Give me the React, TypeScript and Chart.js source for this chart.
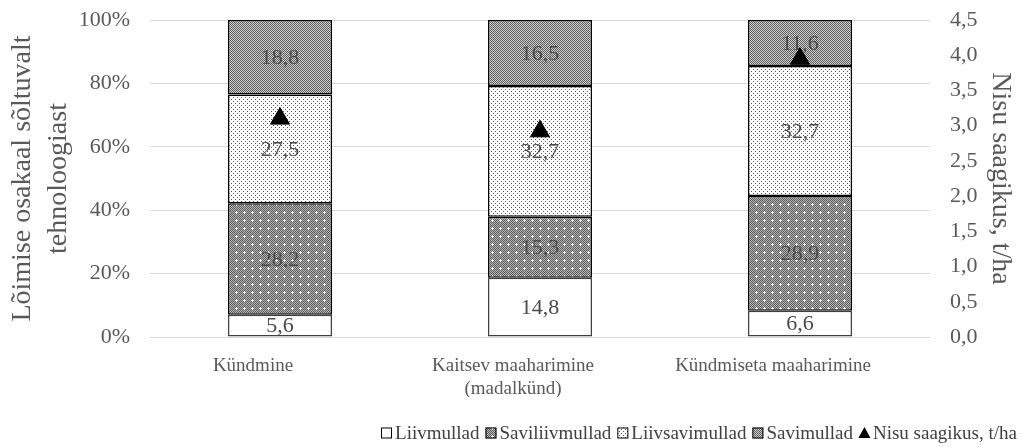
import React, { useEffect, useRef } from 'react';
import { Chart, registerables } from 'chart.js';

Chart.register(...registerables);

// ---- Data ----
const categories: (string | string[])[] = [
  'Kündmine',
  ['Kaitsev maaharimine', '(madalkünd)'],
  'Kündmiseta maaharimine',
];
const seriesNames = ['Liivmullad', 'Saviliivmullad', 'Liivsavimullad', 'Savimullad'];
const liivmullad = [5.6, 14.8, 6.6];
const saviliivmullad = [28.2, 15.3, 28.9];
const liivsavimullad = [27.5, 32.7, 32.7];
const savimullad = [18.8, 16.5, 11.6];
const lineName = 'Nisu saagikus, t/ha';
const nisuSaagikus = [3.1, 2.92, 3.95];
const leftTickStep = 20;
const rightTickStep = 0.5;

const FONT = "'Liberation Serif', 'Times New Roman', serif";
const fmt = (v: number) => v.toFixed(1).replace('.', ',');

function makePattern(size: number, draw: (g: CanvasRenderingContext2D) => void) {
  const c = document.createElement('canvas');
  c.width = size;
  c.height = size;
  const g = c.getContext('2d')!;
  draw(g);
  return g.createPattern(c, 'repeat')!;
}

function checker(g: CanvasRenderingContext2D, size: number, dark: string, light: string) {
  for (let y = 0; y < size; y++) {
    for (let x = 0; x < size; x++) {
      g.fillStyle = (x + y) % 2 === 0 ? dark : light;
      g.fillRect(x, y, 1, 1);
    }
  }
}

const barLabels = {
  id: 'barLabels',
  afterDatasetDraw(chart: any, args: any) {
    const ds = chart.data.datasets[args.index];
    if (!ds.rawValues) return;
    const ctx = chart.ctx;
    ctx.save();
    ctx.font = `22px ${FONT}`;
    ctx.fillStyle = '#4a4a4a';
    ctx.textAlign = 'center';
    ctx.textBaseline = 'middle';
    args.meta.data.forEach((el: any, j: number) => {
      const { x, y, base } = el.getProps(['x', 'y', 'base'], true);
      ctx.fillText(fmt(ds.rawValues[j]), x, (y + base) / 2 + 1);
    });
    ctx.restore();
  },
};

// Legend drawn at the bottom-right, like the original
const bottomLegend = {
  id: 'bottomLegend',
  afterDraw(chart: any) {
    const ctx = chart.ctx;
    const box = 11;
    const gap = 3;
    const itemGap = 6;
    const right = 1017;
    const cy = 433;
    ctx.save();
    ctx.font = `19px ${FONT}`;
    const items = chart.data.datasets.map((ds: any) => ({
      text: ds.label,
      fill: ds.backgroundColor,
      isLine: ds.type === 'line',
      w: ctx.measureText(ds.label).width,
    }));
    const total =
      items.reduce((s: number, it: any) => s + box + gap + it.w, 0) + itemGap * (items.length - 1);
    let x = right - total;
    items.forEach((it: any) => {
      if (it.isLine) {
        ctx.fillStyle = '#000000';
        ctx.beginPath();
        ctx.moveTo(x + box / 2, cy - 6);
        ctx.lineTo(x + box + 0.5, cy + 5);
        ctx.lineTo(x - 0.5, cy + 5);
        ctx.closePath();
        ctx.fill();
      } else {
        ctx.fillStyle = it.fill;
        ctx.fillRect(x, cy - box / 2, box, box);
        ctx.strokeStyle = '#000000';
        ctx.lineWidth = 1;
        ctx.strokeRect(x + 0.5, cy - box / 2 + 0.5, box - 1, box - 1);
      }
      x += box + gap;
      ctx.fillStyle = '#404040';
      ctx.textAlign = 'left';
      ctx.textBaseline = 'middle';
      ctx.fillText(it.text, x, cy + 1);
      x += it.w + itemGap;
    });
    ctx.restore();
  },
};

export default function App() {
  const ref = useRef<HTMLCanvasElement>(null);

  useEffect(() => {
    if (!ref.current) return;
    const pWhite = '#ffffff';
    const pSaviliiv = makePattern(8, (g) => {
      checker(g, 8, '#5a5a5a', '#b8b8b8');
      g.fillStyle = '#ffffff';
      g.fillRect(4, 3, 1, 3);
      g.fillRect(3, 4, 3, 1);
    });
    const pLiivsavi = makePattern(4, (g) => {
      g.fillStyle = '#ffffff';
      g.fillRect(0, 0, 4, 4);
      g.fillStyle = '#555555';
      g.fillRect(1, 1, 1, 1);
      g.fillRect(3, 3, 1, 1);
    });
    const pSavi = makePattern(2, (g) => checker(g, 2, '#5c5c5c', '#cfcfcf'));

    const raw = [liivmullad, saviliivmullad, liivsavimullad, savimullad];
    const totals = categories.map((_, i) => raw.reduce((s, arr) => s + arr[i], 0));
    const fills = [pWhite, pSaviliiv, pLiivsavi, pSavi];
    const borders = ['#404040', '#000000', '#000000', '#000000'];

    const barSets = raw.map((arr, k) => ({
      type: 'bar' as const,
      label: seriesNames[k],
      data: arr.map((v, i) => (v / totals[i]) * 100),
      rawValues: arr,
      backgroundColor: fills[k],
      borderColor: borders[k],
      borderWidth: 1.5,
      borderSkipped: false,
      barPercentage: 0.4,
      categoryPercentage: 1.0,
      yAxisID: 'y',
      order: 1,
    }));

    const lineSet = {
      type: 'line' as const,
      label: lineName,
      data: nisuSaagikus,
      showLine: false,
      pointStyle: 'triangle',
      pointRadius: 11,
      pointHoverRadius: 11,
      backgroundColor: '#000000',
      borderColor: '#000000',
      borderWidth: 1,
      yAxisID: 'y1',
      order: -1,
    };

    const fitVertical = (w: number) => (s: any) => {
      s.width = w;
      s.paddingTop = 0;
      s.paddingBottom = 0;
    };

    const chart = new Chart(ref.current, {
      type: 'bar',
      data: {
        labels: categories,
        datasets: [...barSets, lineSet] as any,
      },
      plugins: [barLabels, bottomLegend],
      options: {
        responsive: false,
        animation: false,
        layout: { padding: { top: 20, bottom: 50, left: 0, right: 0 } },
        plugins: {
          tooltip: { enabled: false },
          legend: { display: false },
        },
        scales: {
          x: {
            stacked: true,
            grid: { display: false },
            border: { display: false },
            ticks: {
              color: '#595959',
              font: { family: FONT, size: 19, lineHeight: 1.2 },
              padding: 10,
              labelOffset: -27,
              maxRotation: 0,
              autoSkip: false,
            },
            afterFit: (s: any) => {
              s.height = 60;
              s.paddingLeft = 0;
              s.paddingRight = 0;
            },
          },
          y: {
            stacked: true,
            position: 'left',
            min: 0,
            max: 100,
            grid: { color: '#d9d9d9', drawTicks: false },
            border: { display: false },
            ticks: {
              stepSize: leftTickStep,
              padding: 20,
              color: '#595959',
              font: { family: FONT, size: 22 },
              callback: (v: any) => `${v}%`,
            },
            title: {
              display: true,
              text: ['Lõimise osakaal sõltuvalt', 'tehnoloogiast'],
              color: '#595959',
              font: { family: FONT, size: 28, lineHeight: 1.28 },
              padding: { top: 5, bottom: 0 },
            },
            afterFit: fitVertical(150),
          },
          y1: {
            position: 'right',
            min: 0,
            max: 4.5,
            grid: { display: false, drawTicks: false },
            border: { display: false },
            ticks: {
              stepSize: rightTickStep,
              padding: 20,
              color: '#595959',
              font: { family: FONT, size: 22 },
              callback: (v: any) => fmt(Number(v)),
            },
            title: {
              display: true,
              text: lineName,
              color: '#595959',
              font: { family: FONT, size: 28, lineHeight: 1.2 },
              padding: { top: 4, bottom: 0 },
            },
            afterFit: fitVertical(91),
          },
        },
      } as any,
    });
    return () => chart.destroy();
  }, []);

  return (
    <div style={{ position: 'absolute', left: 0, top: 0, width: 1021, height: 447, background: '#fff' }}>
      <canvas ref={ref} width={1021} height={447} />
    </div>
  );
}
